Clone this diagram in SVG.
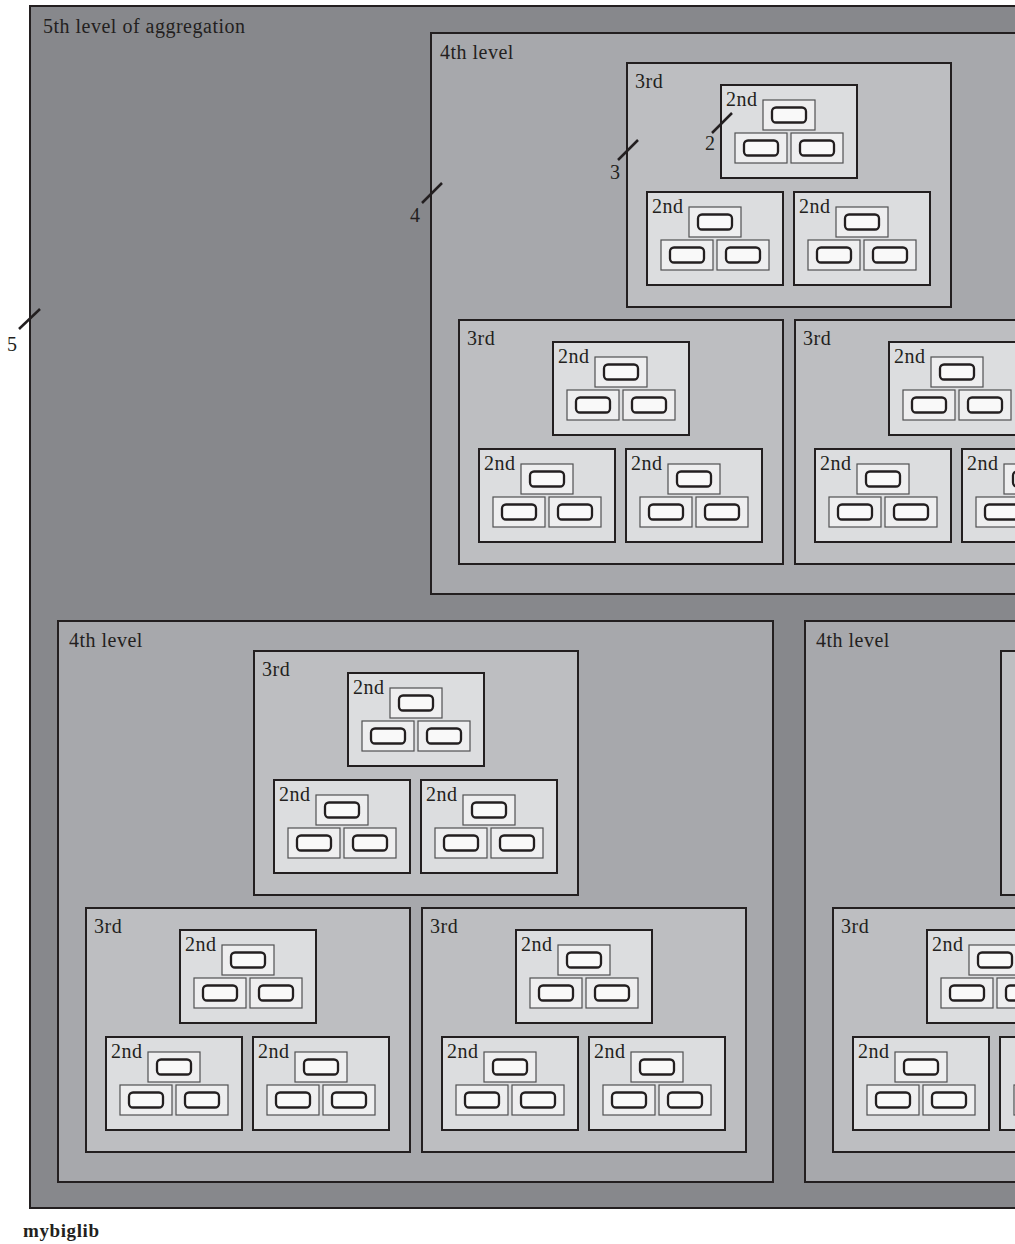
<svg xmlns="http://www.w3.org/2000/svg" width="1015" height="1244" viewBox="0 0 1015 1244">
<defs>
<style>
text{font-family:"Liberation Serif","DejaVu Serif",serif;font-size:20px;fill:#231f20;letter-spacing:0.5px}
.n5{fill:#87888c;stroke:#231f20;stroke-width:2}
.n4{fill:#a7a8ac;stroke:#231f20;stroke-width:2}
.n3{fill:#bdbec1;stroke:#231f20;stroke-width:2}
.n2{fill:#dcdddf;stroke:#231f20;stroke-width:2}
.b{fill:#eeeeef;stroke:#505052;stroke-width:1.2}
.c{fill:#f9f9f9;stroke:#231f20;stroke-width:2.3}
.tick{stroke:#231f20;stroke-width:2.5;fill:none}
.lib{font-weight:bold;font-size:19px;letter-spacing:0.6px}
</style>
</defs>
<g id="level5" transform="translate(30,6)">
<rect class="n5" width="1518" height="1202"/>
<text x="13" y="27">5th level of aggregation</text>

<g id="l4a" transform="translate(401,27)">
<rect class="n4" width="715" height="561"/>
<text x="9" y="26">4th level</text>
<g id="l4a-3a" transform="translate(196,30)">
<rect class="n3" width="324" height="244"/>
<text x="8" y="25">3rd</text>
<g id="l4a-3a-2a" transform="translate(94,22)"><rect class="n2" width="136" height="93"/><text x="5" y="21">2nd</text><rect class="b" x="42" y="15" width="52" height="30"/><rect class="b" x="14" y="48" width="52" height="30"/><rect class="b" x="70" y="48" width="52" height="30"/><rect class="c" x="51" y="22.5" width="34" height="15" rx="4"/><rect class="c" x="23" y="55.5" width="34" height="15" rx="4"/><rect class="c" x="79" y="55.5" width="34" height="15" rx="4"/></g>
<g id="l4a-3a-2b" transform="translate(20,129)"><rect class="n2" width="136" height="93"/><text x="5" y="21">2nd</text><rect class="b" x="42" y="15" width="52" height="30"/><rect class="b" x="14" y="48" width="52" height="30"/><rect class="b" x="70" y="48" width="52" height="30"/><rect class="c" x="51" y="22.5" width="34" height="15" rx="4"/><rect class="c" x="23" y="55.5" width="34" height="15" rx="4"/><rect class="c" x="79" y="55.5" width="34" height="15" rx="4"/></g>
<g id="l4a-3a-2c" transform="translate(167,129)"><rect class="n2" width="136" height="93"/><text x="5" y="21">2nd</text><rect class="b" x="42" y="15" width="52" height="30"/><rect class="b" x="14" y="48" width="52" height="30"/><rect class="b" x="70" y="48" width="52" height="30"/><rect class="c" x="51" y="22.5" width="34" height="15" rx="4"/><rect class="c" x="23" y="55.5" width="34" height="15" rx="4"/><rect class="c" x="79" y="55.5" width="34" height="15" rx="4"/></g>
</g>
<g id="l4a-3b" transform="translate(28,287)">
<rect class="n3" width="324" height="244"/>
<text x="8" y="25">3rd</text>
<g id="l4a-3b-2a" transform="translate(94,22)"><rect class="n2" width="136" height="93"/><text x="5" y="21">2nd</text><rect class="b" x="42" y="15" width="52" height="30"/><rect class="b" x="14" y="48" width="52" height="30"/><rect class="b" x="70" y="48" width="52" height="30"/><rect class="c" x="51" y="22.5" width="34" height="15" rx="4"/><rect class="c" x="23" y="55.5" width="34" height="15" rx="4"/><rect class="c" x="79" y="55.5" width="34" height="15" rx="4"/></g>
<g id="l4a-3b-2b" transform="translate(20,129)"><rect class="n2" width="136" height="93"/><text x="5" y="21">2nd</text><rect class="b" x="42" y="15" width="52" height="30"/><rect class="b" x="14" y="48" width="52" height="30"/><rect class="b" x="70" y="48" width="52" height="30"/><rect class="c" x="51" y="22.5" width="34" height="15" rx="4"/><rect class="c" x="23" y="55.5" width="34" height="15" rx="4"/><rect class="c" x="79" y="55.5" width="34" height="15" rx="4"/></g>
<g id="l4a-3b-2c" transform="translate(167,129)"><rect class="n2" width="136" height="93"/><text x="5" y="21">2nd</text><rect class="b" x="42" y="15" width="52" height="30"/><rect class="b" x="14" y="48" width="52" height="30"/><rect class="b" x="70" y="48" width="52" height="30"/><rect class="c" x="51" y="22.5" width="34" height="15" rx="4"/><rect class="c" x="23" y="55.5" width="34" height="15" rx="4"/><rect class="c" x="79" y="55.5" width="34" height="15" rx="4"/></g>
</g>
<g id="l4a-3c" transform="translate(364,287)">
<rect class="n3" width="324" height="244"/>
<text x="8" y="25">3rd</text>
<g id="l4a-3c-2a" transform="translate(94,22)"><rect class="n2" width="136" height="93"/><text x="5" y="21">2nd</text><rect class="b" x="42" y="15" width="52" height="30"/><rect class="b" x="14" y="48" width="52" height="30"/><rect class="b" x="70" y="48" width="52" height="30"/><rect class="c" x="51" y="22.5" width="34" height="15" rx="4"/><rect class="c" x="23" y="55.5" width="34" height="15" rx="4"/><rect class="c" x="79" y="55.5" width="34" height="15" rx="4"/></g>
<g id="l4a-3c-2b" transform="translate(20,129)"><rect class="n2" width="136" height="93"/><text x="5" y="21">2nd</text><rect class="b" x="42" y="15" width="52" height="30"/><rect class="b" x="14" y="48" width="52" height="30"/><rect class="b" x="70" y="48" width="52" height="30"/><rect class="c" x="51" y="22.5" width="34" height="15" rx="4"/><rect class="c" x="23" y="55.5" width="34" height="15" rx="4"/><rect class="c" x="79" y="55.5" width="34" height="15" rx="4"/></g>
<g id="l4a-3c-2c" transform="translate(167,129)"><rect class="n2" width="136" height="93"/><text x="5" y="21">2nd</text><rect class="b" x="42" y="15" width="52" height="30"/><rect class="b" x="14" y="48" width="52" height="30"/><rect class="b" x="70" y="48" width="52" height="30"/><rect class="c" x="51" y="22.5" width="34" height="15" rx="4"/><rect class="c" x="23" y="55.5" width="34" height="15" rx="4"/><rect class="c" x="79" y="55.5" width="34" height="15" rx="4"/></g>
</g>
</g>

<g id="l4b" transform="translate(28,615)">
<rect class="n4" width="715" height="561"/>
<text x="11" y="26">4th level</text>
<g id="l4b-3a" transform="translate(196,30)">
<rect class="n3" width="324" height="244"/>
<text x="8" y="25">3rd</text>
<g id="l4b-3a-2a" transform="translate(94,22)"><rect class="n2" width="136" height="93"/><text x="5" y="21">2nd</text><rect class="b" x="42" y="15" width="52" height="30"/><rect class="b" x="14" y="48" width="52" height="30"/><rect class="b" x="70" y="48" width="52" height="30"/><rect class="c" x="51" y="22.5" width="34" height="15" rx="4"/><rect class="c" x="23" y="55.5" width="34" height="15" rx="4"/><rect class="c" x="79" y="55.5" width="34" height="15" rx="4"/></g>
<g id="l4b-3a-2b" transform="translate(20,129)"><rect class="n2" width="136" height="93"/><text x="5" y="21">2nd</text><rect class="b" x="42" y="15" width="52" height="30"/><rect class="b" x="14" y="48" width="52" height="30"/><rect class="b" x="70" y="48" width="52" height="30"/><rect class="c" x="51" y="22.5" width="34" height="15" rx="4"/><rect class="c" x="23" y="55.5" width="34" height="15" rx="4"/><rect class="c" x="79" y="55.5" width="34" height="15" rx="4"/></g>
<g id="l4b-3a-2c" transform="translate(167,129)"><rect class="n2" width="136" height="93"/><text x="5" y="21">2nd</text><rect class="b" x="42" y="15" width="52" height="30"/><rect class="b" x="14" y="48" width="52" height="30"/><rect class="b" x="70" y="48" width="52" height="30"/><rect class="c" x="51" y="22.5" width="34" height="15" rx="4"/><rect class="c" x="23" y="55.5" width="34" height="15" rx="4"/><rect class="c" x="79" y="55.5" width="34" height="15" rx="4"/></g>
</g>
<g id="l4b-3b" transform="translate(28,287)">
<rect class="n3" width="324" height="244"/>
<text x="8" y="25">3rd</text>
<g id="l4b-3b-2a" transform="translate(94,22)"><rect class="n2" width="136" height="93"/><text x="5" y="21">2nd</text><rect class="b" x="42" y="15" width="52" height="30"/><rect class="b" x="14" y="48" width="52" height="30"/><rect class="b" x="70" y="48" width="52" height="30"/><rect class="c" x="51" y="22.5" width="34" height="15" rx="4"/><rect class="c" x="23" y="55.5" width="34" height="15" rx="4"/><rect class="c" x="79" y="55.5" width="34" height="15" rx="4"/></g>
<g id="l4b-3b-2b" transform="translate(20,129)"><rect class="n2" width="136" height="93"/><text x="5" y="21">2nd</text><rect class="b" x="42" y="15" width="52" height="30"/><rect class="b" x="14" y="48" width="52" height="30"/><rect class="b" x="70" y="48" width="52" height="30"/><rect class="c" x="51" y="22.5" width="34" height="15" rx="4"/><rect class="c" x="23" y="55.5" width="34" height="15" rx="4"/><rect class="c" x="79" y="55.5" width="34" height="15" rx="4"/></g>
<g id="l4b-3b-2c" transform="translate(167,129)"><rect class="n2" width="136" height="93"/><text x="5" y="21">2nd</text><rect class="b" x="42" y="15" width="52" height="30"/><rect class="b" x="14" y="48" width="52" height="30"/><rect class="b" x="70" y="48" width="52" height="30"/><rect class="c" x="51" y="22.5" width="34" height="15" rx="4"/><rect class="c" x="23" y="55.5" width="34" height="15" rx="4"/><rect class="c" x="79" y="55.5" width="34" height="15" rx="4"/></g>
</g>
<g id="l4b-3c" transform="translate(364,287)">
<rect class="n3" width="324" height="244"/>
<text x="8" y="25">3rd</text>
<g id="l4b-3c-2a" transform="translate(94,22)"><rect class="n2" width="136" height="93"/><text x="5" y="21">2nd</text><rect class="b" x="42" y="15" width="52" height="30"/><rect class="b" x="14" y="48" width="52" height="30"/><rect class="b" x="70" y="48" width="52" height="30"/><rect class="c" x="51" y="22.5" width="34" height="15" rx="4"/><rect class="c" x="23" y="55.5" width="34" height="15" rx="4"/><rect class="c" x="79" y="55.5" width="34" height="15" rx="4"/></g>
<g id="l4b-3c-2b" transform="translate(20,129)"><rect class="n2" width="136" height="93"/><text x="5" y="21">2nd</text><rect class="b" x="42" y="15" width="52" height="30"/><rect class="b" x="14" y="48" width="52" height="30"/><rect class="b" x="70" y="48" width="52" height="30"/><rect class="c" x="51" y="22.5" width="34" height="15" rx="4"/><rect class="c" x="23" y="55.5" width="34" height="15" rx="4"/><rect class="c" x="79" y="55.5" width="34" height="15" rx="4"/></g>
<g id="l4b-3c-2c" transform="translate(167,129)"><rect class="n2" width="136" height="93"/><text x="5" y="21">2nd</text><rect class="b" x="42" y="15" width="52" height="30"/><rect class="b" x="14" y="48" width="52" height="30"/><rect class="b" x="70" y="48" width="52" height="30"/><rect class="c" x="51" y="22.5" width="34" height="15" rx="4"/><rect class="c" x="23" y="55.5" width="34" height="15" rx="4"/><rect class="c" x="79" y="55.5" width="34" height="15" rx="4"/></g>
</g>
</g>

<g id="l4c" transform="translate(775,615)">
<rect class="n4" width="715" height="561"/>
<text x="11" y="26">4th level</text>
<g id="l4c-3a" transform="translate(196,30)">
<rect class="n3" width="324" height="244"/>
<g id="l4c-3a-2a" transform="translate(94,22)"><rect class="n2" width="136" height="93"/><rect class="b" x="42" y="15" width="52" height="30"/><rect class="b" x="14" y="48" width="52" height="30"/><rect class="b" x="70" y="48" width="52" height="30"/><rect class="c" x="51" y="22.5" width="34" height="15" rx="4"/><rect class="c" x="23" y="55.5" width="34" height="15" rx="4"/><rect class="c" x="79" y="55.5" width="34" height="15" rx="4"/></g>
<g id="l4c-3a-2b" transform="translate(20,129)"><rect class="n2" width="136" height="93"/><rect class="b" x="42" y="15" width="52" height="30"/><rect class="b" x="14" y="48" width="52" height="30"/><rect class="b" x="70" y="48" width="52" height="30"/><rect class="c" x="51" y="22.5" width="34" height="15" rx="4"/><rect class="c" x="23" y="55.5" width="34" height="15" rx="4"/><rect class="c" x="79" y="55.5" width="34" height="15" rx="4"/></g>
<g id="l4c-3a-2c" transform="translate(167,129)"><rect class="n2" width="136" height="93"/><rect class="b" x="42" y="15" width="52" height="30"/><rect class="b" x="14" y="48" width="52" height="30"/><rect class="b" x="70" y="48" width="52" height="30"/><rect class="c" x="51" y="22.5" width="34" height="15" rx="4"/><rect class="c" x="23" y="55.5" width="34" height="15" rx="4"/><rect class="c" x="79" y="55.5" width="34" height="15" rx="4"/></g>
</g>
<g id="l4c-3b" transform="translate(28,287)">
<rect class="n3" width="324" height="244"/>
<text x="8" y="25">3rd</text>
<g id="l4c-3b-2a" transform="translate(94,22)"><rect class="n2" width="136" height="93"/><text x="5" y="21">2nd</text><rect class="b" x="42" y="15" width="52" height="30"/><rect class="b" x="14" y="48" width="52" height="30"/><rect class="b" x="70" y="48" width="52" height="30"/><rect class="c" x="51" y="22.5" width="34" height="15" rx="4"/><rect class="c" x="23" y="55.5" width="34" height="15" rx="4"/><rect class="c" x="79" y="55.5" width="34" height="15" rx="4"/></g>
<g id="l4c-3b-2b" transform="translate(20,129)"><rect class="n2" width="136" height="93"/><text x="5" y="21">2nd</text><rect class="b" x="42" y="15" width="52" height="30"/><rect class="b" x="14" y="48" width="52" height="30"/><rect class="b" x="70" y="48" width="52" height="30"/><rect class="c" x="51" y="22.5" width="34" height="15" rx="4"/><rect class="c" x="23" y="55.5" width="34" height="15" rx="4"/><rect class="c" x="79" y="55.5" width="34" height="15" rx="4"/></g>
<g id="l4c-3b-2c" transform="translate(167,129)"><rect class="n2" width="136" height="93"/><rect class="b" x="42" y="15" width="52" height="30"/><rect class="b" x="14" y="48" width="52" height="30"/><rect class="b" x="70" y="48" width="52" height="30"/><rect class="c" x="51" y="22.5" width="34" height="15" rx="4"/><rect class="c" x="23" y="55.5" width="34" height="15" rx="4"/><rect class="c" x="79" y="55.5" width="34" height="15" rx="4"/></g>
</g>
<g id="l4c-3c" transform="translate(364,287)">
<rect class="n3" width="324" height="244"/>
<g id="l4c-3c-2a" transform="translate(94,22)"><rect class="n2" width="136" height="93"/><rect class="b" x="42" y="15" width="52" height="30"/><rect class="b" x="14" y="48" width="52" height="30"/><rect class="b" x="70" y="48" width="52" height="30"/><rect class="c" x="51" y="22.5" width="34" height="15" rx="4"/><rect class="c" x="23" y="55.5" width="34" height="15" rx="4"/><rect class="c" x="79" y="55.5" width="34" height="15" rx="4"/></g>
<g id="l4c-3c-2b" transform="translate(20,129)"><rect class="n2" width="136" height="93"/><rect class="b" x="42" y="15" width="52" height="30"/><rect class="b" x="14" y="48" width="52" height="30"/><rect class="b" x="70" y="48" width="52" height="30"/><rect class="c" x="51" y="22.5" width="34" height="15" rx="4"/><rect class="c" x="23" y="55.5" width="34" height="15" rx="4"/><rect class="c" x="79" y="55.5" width="34" height="15" rx="4"/></g>
<g id="l4c-3c-2c" transform="translate(167,129)"><rect class="n2" width="136" height="93"/><rect class="b" x="42" y="15" width="52" height="30"/><rect class="b" x="14" y="48" width="52" height="30"/><rect class="b" x="70" y="48" width="52" height="30"/><rect class="c" x="51" y="22.5" width="34" height="15" rx="4"/><rect class="c" x="23" y="55.5" width="34" height="15" rx="4"/><rect class="c" x="79" y="55.5" width="34" height="15" rx="4"/></g>
</g>
</g>
</g>

<g id="connectors">
<line class="tick" x1="19" y1="329" x2="40" y2="309"/>
<line class="tick" x1="422" y1="203" x2="442" y2="183"/>
<line class="tick" x1="618" y1="160" x2="638" y2="140"/>
<line class="tick" x1="712" y1="133" x2="732" y2="113"/>
</g>
<g id="labels">
<text x="7" y="351">5</text>
<text x="410" y="222">4</text>
<text x="610" y="179">3</text>
<text x="705" y="150">2</text>
<text class="lib" x="23" y="1237">mybiglib</text>
</g>
</svg>
